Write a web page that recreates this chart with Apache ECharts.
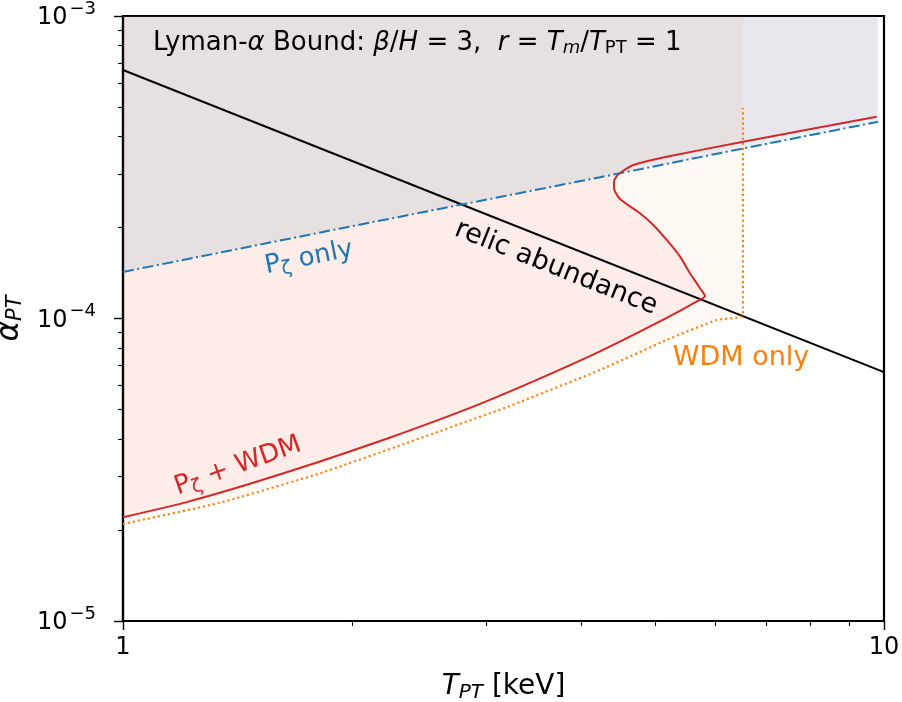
<!DOCTYPE html>
<html><head><meta charset="utf-8">
<script src="https://cdn.jsdelivr.net/npm/echarts@6/dist/echarts.min.js"></script>
<style>html,body{margin:0;padding:0;background:#fff}#c{width:902px;height:702px}</style>
</head><body><div id="c"></div>
<script>
// ---- axis ticks ----
const xTicks = [1, 10];
const xTickLabels = ['1', '10'];
const xMinorTicks = [2, 3, 4, 5, 6, 7, 8, 9];
const yTicks = [1e-5, 1e-4, 1e-3];
const yTickExps = ['−5', '−4', '−3'];
const yMinorTicks = [2e-5, 3e-5, 4e-5, 5e-5, 6e-5, 7e-5, 8e-5, 9e-5, 2e-4, 3e-4, 4e-4, 5e-4, 6e-4, 7e-4, 8e-4, 9e-4];

// ---- series data ----
const relicT = [1, 3.16, 10];
const relicA = [6.63e-4, 2.1e-4, 6.65e-5];

const pzetaT = [1, 2, 4.234, 6.535, 9.82];
const pzetaA = [1.425e-4, 2.02e-4, 2.93e-4, 3.65e-4, 4.47e-4];

const comboT = [1.0, 1.213, 1.483, 1.815, 2.221, 2.829, 3.461, 4.234, 5.182, 5.616, 5.818,
  5.731, 5.674, 5.56, 5.395, 5.182, 4.976, 4.779, 4.499, 4.418, 4.418, 4.455, 4.523, 4.685, 5.182, 6.533, 9.78];
const comboA = [2.203e-5, 2.472e-5, 2.863e-5, 3.368e-5, 4.003e-5, 5.015e-5, 6.20e-5, 7.79e-5, 1.005e-4, 1.122e-4, 1.187e-4,
  1.2585e-4, 1.3074e-4, 1.4109e-4, 1.6011e-4, 1.818e-4, 2.0377e-4, 2.2275e-4, 2.4834e-4, 2.6938e-4, 2.8325e-4, 2.9581e-4, 3.0566e-4, 3.2166e-4, 3.4254e-4, 3.84e-4, 4.647e-4];

const wdmT = [1.0, 1.341, 1.815, 2.457, 3.225, 4.234, 5.182, 6.028, 6.527, 6.527];
const wdmA = [2.0925e-5, 2.4606e-5, 3.0778e-5, 4.018e-5, 5.1414e-5, 6.7576e-5, 8.4918e-5, 9.886e-5, 1.027e-4, 4.965e-4];

const xMin = 1, xMax = 10, yMin = 1e-5, yMax = 1e-3;

const zip = (a, b) => a.map((v, i) => [v, b[i]]);
const FONT = 'DejaVu Sans';
const BLUE = '#1f77b4', RED = '#d62728', ORANGE = '#ff7f0e';

function fillItem(xs, ys, fill) {
  return function (params, api) {
    const pts = xs.map((x, i) => api.coord([x, ys[i]]));
    return { type: 'polygon', shape: { points: pts }, style: { fill: fill }, silent: true };
  };
}
// closed regions: curve + top edge of the plot
const wdmFillT = wdmT.concat([wdmT[wdmT.length - 1], xMin]);
const wdmFillA = wdmA.concat([yMax, yMax]);
const comboFillT = comboT.concat([comboT[comboT.length - 1], xMin]);
const comboFillA = comboA.concat([yMax, yMax]);
const pzetaFillT = pzetaT.concat([pzetaT[pzetaT.length - 1], xMin]);
const pzetaFillA = pzetaA.concat([yMax, yMax]);

const nearestIdx = (arr, v) => {
  let best = 0, d = Infinity;
  arr.forEach((a, i) => { const dd = Math.abs(Math.log10(a) - Math.log10(v)); if (dd < d) { d = dd; best = i; } });
  return best;
};

const chart = echarts.init(document.getElementById('c'), null, { renderer: 'canvas' });
const option = {
  animation: false,
  backgroundColor: '#fff',
  textStyle: { fontFamily: FONT },
  grid: { left: 123, right: 18, top: 16, bottom: 81, outerBoundsMode: 'none', containLabel: false,
    show: true, borderColor: '#000', borderWidth: 2.2, backgroundColor: 'transparent' },
  xAxis: [{
    type: 'log', logBase: 10, min: xMin, max: xMax, position: 'bottom',
    axisLine: { show: true, onZero: false, lineStyle: { color: '#000', width: 2.2 } },
    axisTick: { show: true, customValues: xTicks, length: 9, lineStyle: { color: '#000', width: 1.4 } },
    axisLabel: { show: true, customValues: xTicks, margin: 15, color: '#000', fontSize: 24, fontFamily: FONT,
      formatter: v => xTickLabels[nearestIdx(xTicks, v)] },
    splitLine: { show: false }, minorTick: { show: false },
    name: '{i|T}{s|PT}{n| [keV]}', nameLocation: 'middle', nameGap: 50,
    nameTextStyle: { color: '#000', fontSize: 28, fontFamily: FONT,
      rich: { i: { fontSize: 28, fontStyle: 'italic', fontFamily: FONT }, s: { fontSize: 20, fontStyle: 'italic', fontFamily: FONT, padding: [12, 0, 0, 0] }, n: { fontSize: 28, fontFamily: FONT } } }
  }, {
    type: 'log', logBase: 10, min: xMin, max: xMax, position: 'bottom',
    axisLine: { show: false },
    axisTick: { show: true, customValues: xMinorTicks, length: 5, lineStyle: { color: '#000', width: 1.1 } },
    axisLabel: { show: false }, splitLine: { show: false }
  }],
  yAxis: [{
    type: 'log', logBase: 10, min: yMin, max: yMax, position: 'left',
    axisLine: { show: true, onZero: false, lineStyle: { color: '#000', width: 2.2 } },
    axisTick: { show: true, customValues: yTicks, length: 9, lineStyle: { color: '#000', width: 1.4 } },
    axisLabel: { show: true, customValues: yTicks, margin: 27, color: '#000', fontSize: 24, fontFamily: FONT,
      formatter: v => '{b|10}{e|' + yTickExps[nearestIdx(yTicks, v)] + '}',
      rich: { b: { fontSize: 24, fontFamily: FONT, color: '#000', padding: [4, 2, 0, 0] }, e: { fontSize: 18, fontFamily: FONT, color: '#000', padding: [0, 0, 14, 0] } } },
    splitLine: { show: false }, minorTick: { show: false },
    name: '{i|α}{s|PT}', nameLocation: 'middle', nameGap: 90, nameRotate: 90,
    nameTextStyle: { color: '#000', fontSize: 30, fontFamily: FONT,
      rich: { i: { fontSize: 31, fontStyle: 'italic', fontFamily: FONT }, s: { fontSize: 21, fontStyle: 'italic', fontFamily: FONT, padding: [12, 0, 0, 0] } } }
  }, {
    type: 'log', logBase: 10, min: yMin, max: yMax, position: 'left',
    axisLine: { show: false },
    axisTick: { show: true, customValues: yMinorTicks, length: 5, lineStyle: { color: '#000', width: 1.1 } },
    axisLabel: { show: false }, splitLine: { show: false }
  }],
  series: [
    { type: 'custom', xAxisIndex: 0, yAxisIndex: 0, renderItem: fillItem(wdmFillT, wdmFillA, 'rgba(255,127,14,0.05)'), data: [[xMin, yMax]], z: 1, silent: true },
    { type: 'custom', xAxisIndex: 0, yAxisIndex: 0, renderItem: fillItem(comboFillT, comboFillA, 'rgba(214,39,40,0.055)'), data: [[xMin, yMax]], z: 1, silent: true },
    { type: 'custom', xAxisIndex: 0, yAxisIndex: 0, renderItem: fillItem(pzetaFillT, pzetaFillA, 'rgba(31,119,180,0.10)'), data: [[xMin, yMax]], z: 1, silent: true },
    { type: 'line', data: zip(relicT, relicA), showSymbol: false, symbol: 'none', z: 5, silent: true,
      lineStyle: { color: '#000', width: 2 } },
    { type: 'line', data: zip(pzetaT, pzetaA), showSymbol: false, symbol: 'none', z: 5, silent: true,
      lineStyle: { color: BLUE, width: 2, type: [11, 3.5, 2, 3.5] } },
    { type: 'line', data: zip(wdmT, wdmA), showSymbol: false, symbol: 'none', z: 5, silent: true, smooth: 0.15,
      lineStyle: { color: ORANGE, width: 2.1, type: [2.1, 3] } },
    { type: 'line', data: zip(comboT, comboA), showSymbol: false, symbol: 'none', z: 6, silent: true, smooth: 0.2,
      lineStyle: { color: RED, width: 2 } }
  ],
  graphic: [
    { type: 'text', left: 153, top: 30, z: 20, silent: true,
      style: { text: '{n|Lyman-}{i|α}{n| Bound: }{i|β}{n|/}{i|H}{n| = 3,  }{i|r}{n| = }{i|T}{s|m}{n|/}{i|T}{r|PT}{n| = 1}',
        fill: '#000', font: '26px DejaVu Sans',
        rich: { n: { fontSize: 26, fontFamily: FONT, fill: '#000' }, i: { fontSize: 26, fontFamily: FONT, fontStyle: 'italic', fill: '#000' },
          s: { fontSize: 18, fontFamily: FONT, fontStyle: 'italic', fill: '#000', padding: [11, 0, 0, 0] },
          r: { fontSize: 18, fontFamily: FONT, fill: '#000', padding: [11, 0, 0, 0] } } } },
    { type: 'text', x: 309, y: 258, rotation: 11.3 * Math.PI / 180, z: 20, silent: true,
      style: { text: '{n|P}{s|ζ}{n| only}', align: 'center', verticalAlign: 'middle', fill: BLUE,
        rich: { n: { fontSize: 26, fontFamily: FONT, fill: BLUE }, s: { fontSize: 19, fontFamily: FONT, fill: BLUE, padding: [12, 0, 0, 0] } } } },
    { type: 'text', x: 556, y: 268, rotation: -21.6 * Math.PI / 180, z: 20, silent: true,
      style: { text: 'relic abundance', align: 'center', verticalAlign: 'middle', fill: '#000', font: '27px DejaVu Sans' } },
    { type: 'text', x: 238, y: 466, rotation: 19.5 * Math.PI / 180, z: 20, silent: true,
      style: { text: '{n|P}{s|ζ}{n| + WDM}', align: 'center', verticalAlign: 'middle', fill: RED,
        rich: { n: { fontSize: 26, fontFamily: FONT, fill: RED }, s: { fontSize: 19, fontFamily: FONT, fill: RED, padding: [12, 0, 0, 0] } } } },
    { type: 'text', x: 741, y: 358, z: 20, silent: true,
      style: { text: 'WDM only', align: 'center', verticalAlign: 'middle', fill: ORANGE, font: '27px DejaVu Sans' } }
  ]
};
chart.setOption(option);
</script></body></html>
